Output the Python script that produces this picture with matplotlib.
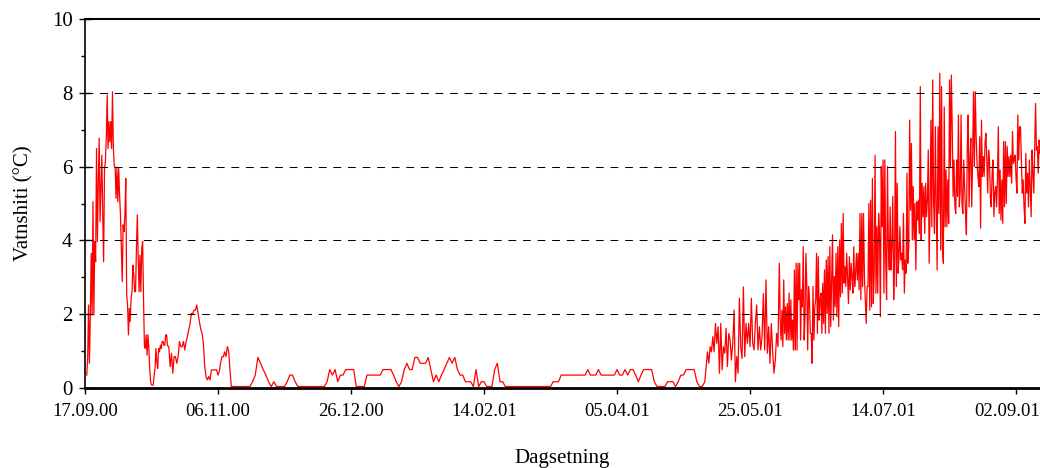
import pandas as pd
import matplotlib
matplotlib.use('Agg')
import matplotlib.pyplot as plt
import matplotlib.dates as mdates
import matplotlib.transforms as mtransforms
from matplotlib.ticker import MultipleLocator

plt.rcParams['font.family'] = ['Liberation Serif', 'DejaVu Serif']

# Haust 2000, maaling kvar 8. time (17.09 - 18.10)
haust1_start = '2000-09-17 16:00'
haust1 = [0.35, 0.80, 2.25, 0.67, 1.98, 3.65, 1.98, 5.05, 1.98, 3.97,
          3.42, 6.49, 3.97, 5.59, 6.77, 4.51, 5.41, 6.31, 4.69, 3.42,
          5.95, 6.13, 6.77, 7.94, 6.49, 7.22, 6.67, 7.22, 6.49, 8.03,
          6.49, 6.04, 5.95, 5.14, 5.95, 5.05, 5.95, 5.23, 4.69, 3.78,
          2.88, 4.42, 4.24, 4.69, 5.68, 2.52, 2.25, 1.44, 2.16, 1.80,
          2.43, 2.61, 3.33, 3.06, 2.61, 2.61, 3.78, 4.69, 3.51, 2.61,
          3.60, 2.61, 3.78, 3.97, 2.43, 1.16, 1.07, 1.44, 0.89, 1.44,
          1.07, 0.53, 0.17, 0.08, 0.08, 0.08, 0.35, 0.53, 1.07, 0.71,
          0.53, 1.07, 0.98, 1.16, 1.07, 1.26, 1.26, 1.16, 1.16, 1.44, 1.44]

# 18.10 - 10.11, kvar 12. time
haust2_start = '2000-10-18 00:00'
haust2 = [1.15, 1.12, 0.58, 0.94, 0.40, 0.85, 0.85, 0.67, 0.85, 1.26,
          1.12, 1.12, 1.26, 1.03, 1.26, 1.40, 1.57, 1.75, 2.02, 2.02,
          2.11, 2.11, 2.25, 2.02, 1.80, 1.60, 1.48, 1.21, 0.60, 0.30,
          0.22, 0.31, 0.22, 0.49, 0.49, 0.49, 0.49, 0.49, 0.35, 0.45,
          0.70, 0.85, 0.85, 0.98, 0.85, 1.12, 1.00, 0.49]

# Vinter, dagsverdiar 11.11.00 - 08.05.01
vinter_start = '2000-11-11'
vinter = [0.04, 0.04, 0.04, 0.04, 0.04, 0.04, 0.04, 0.04,
          0.17, 0.35, 0.83, 0.67, 0.50, 0.35, 0.17, 0.04, 0.17,
          0.04, 0.04, 0.04, 0.04,
          0.17, 0.35, 0.35, 0.17,
          0.04, 0.04, 0.04, 0.04, 0.04, 0.04, 0.04, 0.04, 0.04, 0.04, 0.04,
          0.17, 0.50, 0.35, 0.50, 0.17, 0.35, 0.35,
          0.50, 0.50, 0.50, 0.50,
          0.04, 0.04, 0.04, 0.04,
          0.35, 0.35, 0.35, 0.35, 0.35, 0.35,
          0.50, 0.50, 0.50, 0.50,
          0.35, 0.17, 0.04, 0.17, 0.50, 0.67, 0.50, 0.50, 0.83, 0.83,
          0.67, 0.67, 0.67, 0.83, 0.50, 0.17, 0.35, 0.17, 0.35, 0.50,
          0.67, 0.83, 0.67, 0.83, 0.50, 0.35, 0.35, 0.17, 0.17, 0.17,
          0.04, 0.50, 0.04, 0.17, 0.17, 0.04, 0.04, 0.04, 0.50, 0.67,
          0.17, 0.17,
          0.04, 0.04, 0.04, 0.04, 0.04, 0.04, 0.04, 0.04, 0.04,
          0.04, 0.04, 0.04, 0.04, 0.04, 0.04, 0.04, 0.04, 0.04,
          0.17, 0.17, 0.17,
          0.35, 0.35, 0.35, 0.35, 0.35, 0.35, 0.35, 0.35, 0.35, 0.35,
          0.50, 0.35, 0.35, 0.35, 0.50,
          0.35, 0.35, 0.35, 0.35, 0.35, 0.35,
          0.50, 0.35, 0.35, 0.50, 0.35, 0.50, 0.50, 0.35, 0.17, 0.35,
          0.50, 0.50, 0.50, 0.50, 0.17,
          0.04, 0.04, 0.04, 0.04,
          0.17, 0.17, 0.17, 0.04, 0.17, 0.35, 0.35,
          0.50, 0.50, 0.50, 0.50, 0.17, 0.04, 0.04, 0.17]

# Mai 2001, kvar 12. time
mai_start = '2001-05-09 00:00'
mai = [0.98, 0.67, 1.12, 0.98, 1.39, 0.98, 1.75, 1.21, 1.66, 0.40,
       1.75, 0.49, 1.12, 0.94, 1.62, 0.58, 1.48, 1.30, 0.76, 1.21,
       2.11, 0.17, 0.85, 0.40, 2.43, 1.12, 0.80, 2.74, 0.85, 1.75,
       1.21, 1.75, 1.12, 2.43, 1.21, 1.03, 1.75, 2.25, 1.03, 1.66,
       1.03, 1.39, 2.56, 1.03, 2.93, 0.94, 1.66, 0.67, 1.75, 0.98,
       0.40, 0.76, 1.48, 1.12, 3.38]

# Sommar 2001, kvar 8. time
sommar_start = '2001-06-05 08:00'
sommar = [1.84, 1.30, 2.11, 1.12, 2.93, 1.48, 2.20, 1.30, 2.29, 1.30,
          2.57, 1.30, 2.39, 1.30, 1.84, 1.03, 3.20, 1.03, 3.38, 1.03,
          3.38, 2.39, 3.38, 1.30, 2.66, 2.20, 3.83, 1.30, 1.93, 3.65,
          2.75, 1.03, 2.75, 2.39, 1.48, 1.48, 0.67, 2.75, 1.30, 2.20,
          2.39, 3.65, 1.48, 3.56, 1.84, 2.39, 2.57, 1.48, 2.84, 1.75,
          3.20, 1.48, 3.47, 2.02, 3.56, 1.48, 3.83, 1.66, 2.93, 4.15,
          1.84, 3.02, 2.20, 3.65, 1.93, 3.83, 1.66, 4.01, 2.47, 4.46,
          2.57, 4.73, 2.84, 3.29, 2.75, 3.65, 2.93, 2.29, 3.56, 2.66,
          3.38, 3.02, 2.57, 3.83, 2.75, 3.11, 3.65, 2.93, 3.65, 2.66,
          4.73, 2.39, 4.73, 2.75,
          4.73, 3.02, 2.39, 1.75, 2.75, 2.75, 5.00, 2.11, 5.09, 2.20,
          5.68, 2.29, 3.11, 6.31, 2.57, 4.37, 2.57, 4.73, 4.19, 1.93,
          6.00, 4.37, 6.18, 2.57, 6.18, 3.47, 2.39, 6.00, 3.83, 3.20,
          4.91, 3.20, 3.83, 5.19, 2.39, 3.47, 6.95, 2.75, 5.55, 3.11,
          3.56, 4.37, 3.47, 3.65, 3.20, 4.73, 2.57, 3.47, 3.11, 5.82,
          3.38, 3.83, 7.26, 4.82, 6.63, 4.01, 5.46, 4.01, 5.00, 3.20,
          5.05, 4.55, 5.09, 4.19, 8.17, 4.01, 5.55, 4.64, 5.46, 4.19,
          5.55, 4.64, 5.09, 6.45, 3.38, 4.82, 7.26, 4.37, 8.35, 5.09,
          4.19, 7.08, 4.91, 3.20, 7.08, 4.73, 8.53, 3.74, 8.17, 3.83,
          3.38, 7.62, 4.37, 5.91, 4.37, 5.64,
          4.46, 8.35, 6.00, 8.48, 7.08, 5.19, 6.18, 4.91, 4.73, 6.18,
          5.19, 7.40, 4.91, 5.37, 7.40, 5.00, 4.73, 6.18, 5.46, 4.73,
          4.15, 6.54, 7.40, 4.91, 6.18, 6.77, 4.91, 6.18, 8.03, 6.00,
          8.03, 6.81, 6.09, 5.73, 5.46, 6.81, 4.33, 7.26, 5.73, 6.27,
          5.73, 6.63, 6.90, 6.18, 5.28, 6.45, 6.18, 5.19, 4.91, 5.82,
          6.18, 4.64, 5.28, 5.46, 4.91, 5.64, 7.08, 4.73, 5.91, 4.55,
          5.64, 4.46, 6.68, 4.91, 6.68, 5.00, 6.54, 5.73, 6.27, 5.73,
          6.31, 5.55, 6.95, 6.09, 6.18, 6.31, 5.68, 5.28, 7.40, 6.18,
          7.08, 7.08, 6.18, 5.28, 5.64, 4.91, 4.46, 6.36, 5.28, 5.82,
          4.91, 6.18, 5.37, 4.64, 6.45, 5.82, 5.28, 6.45, 7.71, 6.45,
          6.54, 5.82, 6.72, 6.36, 6.45, 5.64, 6.27, 5.73, 5.91, 4.80]

segment = [(haust1_start, '8h', haust1),
           (haust2_start, '12h', haust2),
           (vinter_start, 'D', vinter),
           (mai_start, '12h', mai),
           (sommar_start, '8h', sommar)]

serie = pd.concat([pd.Series(verdi, index=pd.date_range(start, periods=len(verdi), freq=frekv))
                   for start, frekv, verdi in segment])

start_dato = pd.Timestamp('2000-09-17')
x_ticks = pd.date_range(start_dato, periods=8, freq='50D')

fig = plt.figure(figsize=(10.4, 4.68), dpi=100)
ax = fig.add_axes([85 / 1040, 80 / 468, 955 / 1040, 369 / 468])

ax.plot(serie.index, serie.values, color='red', linewidth=0.9, zorder=2)
for y in [2, 4, 6, 8]:
    ax.axhline(y, color='black', linewidth=0.75, linestyle=(0, (7.5, 6.5)), zorder=3)

ax.set_xlim(start_dato, start_dato + pd.Timedelta(days=359))
ax.set_ylim(0, 10)
ax.set_xticks(x_ticks)
ax.xaxis.set_major_formatter(mdates.DateFormatter('%d.%m.%y'))
ax.yaxis.set_major_locator(MultipleLocator(2))
ax.yaxis.set_minor_locator(MultipleLocator(1))

ax.spines['right'].set_visible(False)
ax.spines['top'].set_linewidth(1.5)
ax.spines['bottom'].set_linewidth(2)
ax.spines['left'].set_linewidth(1.2)

ax.tick_params(axis='y', which='major', direction='inout', length=8, width=1, labelsize=15, pad=5)
ax.tick_params(axis='y', which='minor', direction='out', length=3, width=1)
ax.tick_params(axis='x', which='major', direction='out', length=4, width=1, labelsize=13.5, pad=7)

# siste datoetiketten ligg heilt i kanten, flytt han litt inn
siste = ax.get_xticklabels()[-1]
siste.set_transform(siste.get_transform() + mtransforms.ScaledTranslation(-9 / 100, 0, fig.dpi_scale_trans))

ax.set_xlabel('Dagsetning', fontsize=15)
ax.set_ylabel('Vatnshiti (°C)', fontsize=15)
ax.xaxis.set_label_coords(0.5, -0.165)
ax.yaxis.set_label_coords(-0.054, 0.5)

plt.savefig('out.png', dpi=100)
